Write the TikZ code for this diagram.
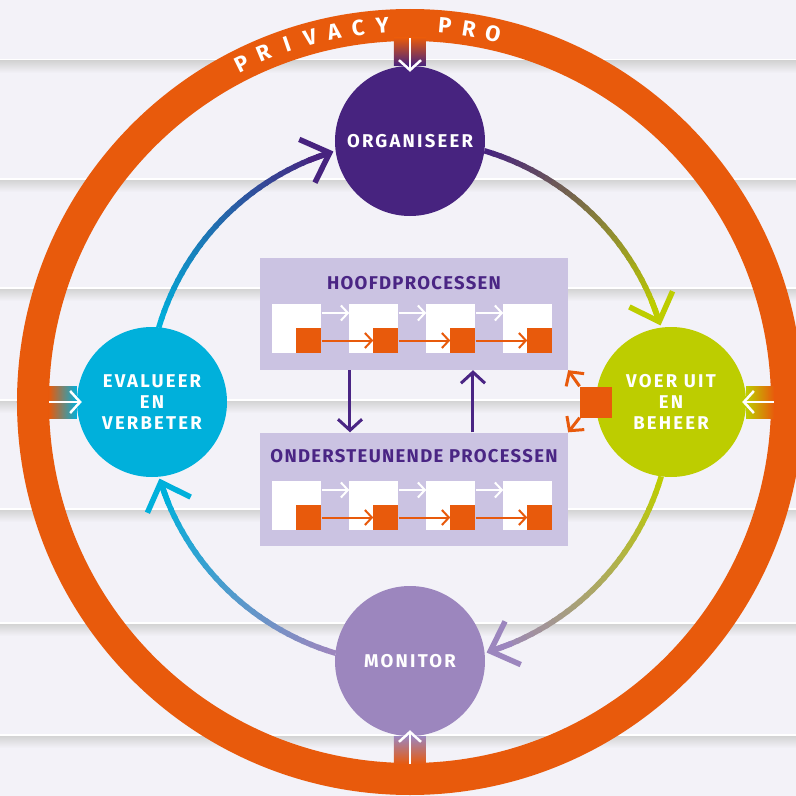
\documentclass[tikz,border=0pt]{standalone}
\usepackage{fontspec}
\setmainfont{Fira Sans}
\newfontfamily\phasefont[LetterSpace=12]{Fira Sans}
\newfontfamily\titlefont[LetterSpace=7]{Fira Sans}
\usepackage{tikz}
\usetikzlibrary{arrows.meta}

\definecolor{ppOrange}{HTML}{E85A0C}
\definecolor{ppPurple}{HTML}{47237F}
\definecolor{ppGreen}{HTML}{BDCD00}
\definecolor{ppCyan}{HTML}{00B0DB}
\definecolor{ppLav}{HTML}{9C86BE}
\definecolor{ppBox}{HTML}{CBC3E2}
\definecolor{ppText}{HTML}{4A2584}
\definecolor{ppBack}{HTML}{F3F2F8}

\tikzset{
	phase/.style={circle, minimum size=150pt, inner sep=0pt, text=white, align=center, font=\phasefont\bfseries\fontsize{18.5}{21}\selectfont},
	procbox/.style={rectangle, fill=ppBox, minimum width=308pt, minimum height=112pt, inner sep=0pt},
	boxtitle/.style={text=ppText, inner sep=0pt, font=\titlefont\bfseries\fontsize{18.5}{21}\selectfont},
	wsq/.style={fill=white, minimum size=49pt, inner sep=0pt},
	osq/.style={fill=ppOrange, minimum size=25pt, inner sep=0pt},
	ringletter/.style={text=white, inner sep=0pt, font=\bfseries\fontsize{22}{22}\selectfont},
	inarrow/.style={white, line width=2.5pt, -{Straight Barb[length=10pt,width=22pt]}},
	cyclearrow/.style={line width=5.5pt, -{Straight Barb[length=24pt,width=46pt]}},
	warrow/.style={white, line width=2pt, -{Straight Barb[length=7pt,width=15pt]}},
	oarrow/.style={ppOrange, line width=2pt, -{Straight Barb[length=7pt,width=15pt]}},
	flowarrow/.style={ppText, line width=3pt, -{Straight Barb[length=11pt,width=24pt]}},
	linkarrow/.style={ppOrange, line width=3pt, -{Straight Barb[length=10pt,width=22pt]}}
}

\begin{document}
\begin{tikzpicture}[x=1pt, y=1pt]
	\useasboundingbox (-410,-394) rectangle (386,402);
	\fill[ppBack] (-410,-394) rectangle (386,402);
	\foreach \y in {341,222,113,1,-108,-222,-334}{
		\fill[white] (-410,\y) rectangle (386,\y+2);
		\shade[top color=black!17, bottom color=ppBack] (-410,\y) rectangle (386,\y-12);
	}

	\draw[ppOrange, line width=32pt] (0,0) circle (377);
	\foreach \l/\a [count=\n] in {P/116.4,R/112.7,I/109.0,V/105.3,A/101.6,C/97.9,Y/94.2,P/84.7,R/81.0,O/77.3}
		\node[ringletter, rotate=\a-90] (rl\n) at (\a:378) {\l};

	\node[phase, fill=ppPurple] (org) at (0,261) {ORGANISEER};
	\node[phase, fill=ppGreen] (voer) at (261,0) {VOER UIT\\EN\\BEHEER};
	\node[phase, fill=ppLav] (mon) at (0,-259) {MONITOR};
	\node[phase, fill=ppCyan] (eval) at (-258,0) {EVALUEER\\EN\\VERBETER};

	\shade[top color=ppOrange, bottom color=ppPurple] ([xshift=-16pt]org.north) rectangle ([xshift=16pt,yshift=28pt]org.north);
	\shade[bottom color=ppOrange, top color=ppLav] ([xshift=-16pt]mon.south) rectangle ([xshift=16pt,yshift=-28pt]mon.south);
	\shade[left color=ppOrange, right color=ppCyan] ([xshift=-28pt,yshift=-16pt]eval.west) rectangle ([yshift=16pt]eval.west);
	\shade[right color=ppOrange, left color=ppGreen] ([yshift=-16pt]voer.east) rectangle ([xshift=28pt,yshift=16pt]voer.east);
	\draw[inarrow] ([yshift=28pt]org.north) -- ([yshift=-6pt]org.north);
	\draw[inarrow] ([yshift=-28pt]mon.south) -- ([yshift=6pt]mon.south);
	\draw[inarrow] ([xshift=-28pt]eval.west) -- ([xshift=5pt]eval.west);
	\draw[inarrow] ([xshift=28pt]voer.east) -- ([xshift=-4pt]voer.east);

	\foreach \s/\e/\ca/\cb in {163.5/107/ppCyan/ppPurple, 73.5/17/ppPurple/ppGreen, -16.5/-73/ppGreen/ppLav, -106.5/-163/ppLav/ppCyan}{
		\foreach \k in {0,...,29}{
			\pgfmathsetmacro\aa{\s+(\e+2-\s)*\k/30}
			\pgfmathsetmacro\bb{\s+(\e+2-\s)*(\k+1.3)/30}
			\pgfmathsetmacro\pc{100-100*\k/29}
			\draw[line width=5.5pt, \ca!\pc!\cb] (\aa:262) arc[start angle=\aa, end angle=\bb, radius=262];
		}
		\draw[cyclearrow, \cb] (\e+6:262) -- (\e:262);
	}

	\node[procbox] (hoofd) at (4,88) {};
	\node[procbox, minimum height=113pt] (onder) at (4,-87) {};
	\node[boxtitle] (ht) at (4,118.5) {HOOFDPROCESSEN};
	\node[boxtitle] (ot) at (4,-54) {ONDERSTEUNENDE PROCESSEN};
	\foreach \r/\y in {h/73.5, o/-103.5}{
		\foreach \i/\x in {1/-113, 2/-36, 3/41, 4/118}{
			\node[wsq] (\r w\i) at (\x,\y) {};
			\node[osq] (\r o\i) at (\x+12,\y-12) {};
		}
		\foreach \i/\j in {1/2, 2/3, 3/4}{
			\draw[warrow] ([yshift=15.5pt]\r w\i.east) -- ([yshift=15.5pt]\r w\j.west);
			\draw[oarrow] (\r o\i) -- (\r o\j);
		}
	}

	\draw[flowarrow] ([xshift=-64pt]hoofd.south) -- ([xshift=-64pt]onder.north);
	\draw[flowarrow] ([xshift=59pt]onder.north) -- ([xshift=59pt]hoofd.south);

	\node[fill=ppOrange, minimum width=32pt, minimum height=31pt, inner sep=0pt] (link) at (voer.west) {};
	\draw[linkarrow] (link.north west) -- (hoofd.south east);
	\draw[linkarrow] (link.south west) -- (onder.north east);
\end{tikzpicture}
\end{document}
